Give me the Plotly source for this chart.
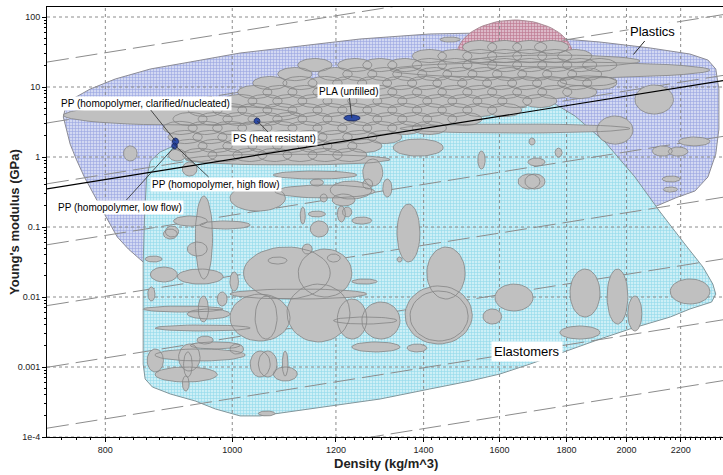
import numpy as np
import plotly.graph_objects as go

# ---------------- axes ----------------
x_range = [722, 2370]            # density, kg/m^3
y_range = [1e-4, 139]            # Young's modulus, GPa
x_ticks = [800, 1000, 1200, 1400, 1600, 1800, 2000, 2200]
x_ticktext = ["800", "1000", "1200", "1400", "1600", "1800", "2000", "2200"]
y_ticks = [1e-4, 1e-3, 1e-2, 0.1, 1, 10, 100]
y_ticktext = ["1e-4", "0.001", "0.01", "0.1", "1", "10", "100"]

# ---------------- envelopes (density, modulus) ----------------
plastics_rho = [743, 746, 755, 779, 814, 866, 929, 1014, 1127, 1252, 1415, 1546, 1718, 1909, 2085, 2236,
                2308, 2340, 2353, 2353, 2340, 2308, 2256, 2180, 2048, 1909, 1779, 1658, 1519, 1391, 1274,
                1167, 1069, 1005, 954, 913, 881, 855, 833, 817, 801, 785, 771, 760, 752, 747]
plastics_E = [3.73, 5.18, 6.74, 9.36, 13.0, 18.1, 22.8, 30.6, 38.5, 48.5, 57.2, 59.1, 51.8, 43.9, 36.1, 29.6,
              24.3, 18.1, 9.36, 2.51, 1.10, 0.518, 0.327, 0.260, 0.158, 0.072, 0.0385, 0.0206, 0.0103, 0.00631,
              0.00425, 0.00316, 0.00286, 0.00316, 0.00454, 0.00877, 0.0169, 0.0316, 0.0485, 0.072, 0.139,
              0.277, 0.518, 0.936, 1.53, 2.51]

elast_rho = [905, 996, 1188, 1467, 1658, 1739, 1827, 1926, 2030, 2122, 2216, 2288, 2328, 2340, 2323, 2236,
             2160, 2012, 1909, 1801, 1688, 1601, 1519, 1415, 1297, 1188, 1107, 1050, 1014, 971, 937, 897,
             869, 858, 855, 855, 855, 857, 860, 866, 881]
elast_E = [1.48, 2.86, 4.54, 6.74, 7.69, 6.74, 3.85, 1.64, 0.518, 0.164, 0.0572, 0.0268, 0.0153, 0.011,
           0.00848, 0.00674, 0.00518, 0.00349, 0.00251, 0.00169, 0.0011, 0.000794, 0.000631, 0.000485,
           0.000349, 0.000277, 0.000228, 0.0002, 0.0002, 0.000251, 0.000327, 0.000411, 0.000518, 0.000674,
           0.0011, 0.00936, 0.0296, 0.130, 0.485, 0.877, 1.18]

highlight_box = (1484, 1820, 8.48, 90.6)   # rho_lo, rho_hi, E_lo, E_hi

# ---------------- material bubbles: (rho_lo, rho_hi, E_lo, E_hi) ----------------
plastics_grades = [
    (743, 1127, 2.86, 5.53), (1320, 2316, 13.4, 22.8), (1519, 2048, 19.3, 28.6), (1343, 2012, 2.20, 2.96),
    (921, 1320, 0.769, 1.10), (1075, 1245, 0.485, 0.631), (1078, 1285, 0.260, 0.398), (1188, 1278, 0.251, 0.454),
    (1327, 1449, 1.03, 1.81), (1258, 1303, 0.385, 0.936), (1899, 2023, 1.53, 3.85), (2030, 2172, 4.11, 10.7),
    (1779, 1967, 10.3, 14.4), (1540, 1560, 0.674, 1.22), (1685, 1703, 1.48, 1.87), (1764, 1786, 1.0, 1.34),
    (1682, 1733, 0.743, 0.968), (1653, 1718, 0.349, 0.572), (1673, 1733, 0.349, 0.572), (2093, 2168, 1.03, 1.44),
    (2153, 2228, 1.03, 1.39), (2192, 2316, 1.44, 1.93), (2130, 2198, 0.439, 0.535), (2134, 2188, 0.316, 0.373),
    (1441, 1493, 43.9, 51.8), (826, 846, 0.877, 1.44), (894, 922, 0.877, 1.30), (916, 940, 0.535, 0.848),
]

# dense family of thermoplastic grades: row modulus (GPa) and grade densities (kg/m^3)
cluster_row_E = [37.3, 27.7, 20.6, 15.3, 11.4, 8.48, 6.31, 4.69, 3.49, 2.60, 1.93, 1.44, 1.07]
cluster_row_rho = [
    [1546, 1615, 1688, 1754],
    [1415, 1480, 1546, 1615, 1688, 1764, 1827],
    [1157, 1241, 1297, 1355, 1415, 1480, 1546, 1615, 1688, 1764, 1843, 1909],
    [1117, 1199, 1252, 1308, 1367, 1428, 1493, 1560, 1629, 1703, 1779, 1859],
    [1069, 1127, 1178, 1230, 1285, 1343, 1403, 1467, 1532, 1601, 1673, 1748, 1827, 1909],
    [1041, 1088, 1137, 1188, 1241, 1297, 1355, 1415, 1480, 1546, 1615, 1688, 1764, 1843],
    [1014, 1060, 1107, 1157, 1209, 1263, 1320, 1379, 1441, 1506, 1574, 1644, 1718],
    [954, 996, 1041, 1088, 1137, 1188, 1241, 1297, 1355, 1415, 1480, 1546, 1615],
    [929, 971, 1014, 1060, 1107, 1157, 1209, 1263, 1320, 1379, 1441, 1506],
    [913, 954, 996, 1041, 1088, 1137, 1188, 1241, 1297, 1355, 1415],
    [921, 962, 1005, 1050, 1098, 1147, 1199, 1252, 1308],
    [929, 971, 1014, 1060, 1107, 1157, 1209, 1263],
    [945, 988, 1032, 1078, 1127, 1178, 1230],
]
grade_rho_spread = 0.030   # +/- fraction of density
grade_E_factor = 1.24      # modulus range factor

elastomer_grades = [
    (886, 908, 0.0674, 0.0936), (996, 1098, 0.169, 0.398), (937, 966, 0.0181, 0.277), (902, 957, 0.103, 0.144),
    (945, 1032, 0.0936, 0.122), (889, 910, 0.072, 0.103), (924, 957, 0.0385, 0.061), (866, 908, 0.0164, 0.0268),
    (858, 884, 0.0316, 0.0385), (908, 984, 0.0153, 0.0251), (862, 873, 0.00877, 0.0139), (974, 991, 0.00743, 0.0118),
    (942, 959, 0.00439, 0.0103), (855, 984, 0.0061, 0.00743), (924, 996, 0.00485, 0.00674), (873, 1032, 0.00327, 0.00398),
    (861, 886, 0.000848, 0.00181), (873, 1023, 0.00122, 0.00181), (873, 974, 0.000611, 0.001), (910, 945, 0.000877, 0.00213),
    (918, 932, 0.00072, 0.00164), (916, 927, 0.000454, 0.000743), (940, 967, 0.00213, 0.00277), (929, 1014, 0.00181, 0.00228),
    (1032, 1069, 0.00072, 0.00169), (1047, 1082, 0.00072, 0.00169), (1092, 1103, 0.000743, 0.00169),
    (1075, 1121, 0.000631, 0.001), (1047, 1078, 0.0002, 0.000235),
    (1020, 1188, 0.00936, 0.0518), (1123, 1234, 0.01, 0.0485), (996, 1107, 0.00235, 0.011), (1041, 1082, 0.00251, 0.0103),
    (996, 1267, 0.00936, 0.013), (1101, 1230, 0.00228, 0.0153), (1203, 1267, 0.00251, 0.00936), (1256, 1343, 0.00251, 0.00848),
    (1195, 1336, 0.00411, 0.00518), (1355, 1525, 0.00213, 0.0144), (1367, 1514, 0.00235, 0.0122), (1408, 1506, 0.00936, 0.0518),
    (996, 1020, 0.00153, 0.00213), (1234, 1343, 0.00164, 0.00228), (1360, 1408, 0.00164, 0.00213), (1065, 1101, 0.0296, 0.0373),
    (1182, 1209, 0.0316, 0.0411), (1131, 1151, 0.0411, 0.0572), (1234, 1290, 0.0153, 0.0181), (996, 1011, 0.0122, 0.0228),
    (1192, 1241, 0.2, 0.296), (1167, 1182, 0.228, 0.296), (1203, 1220, 0.118, 0.2), (1214, 1234, 0.139, 0.193),
    (1143, 1178, 0.139, 0.169), (1234, 1278, 0.110, 0.139), (1147, 1184, 0.072, 0.122), (1127, 1137, 0.110, 0.193),
    (1303, 1324, 0.268, 0.485), (1258, 1280, 0.349, 0.485), (1336, 1348, 0.0316, 0.0373), (1336, 1391, 0.0316, 0.213),
    (1147, 1174, 0.385, 0.485),
    (1587, 1697, 0.00631, 0.0153), (1554, 1606, 0.00411, 0.00674), (1811, 1909, 0.00518, 0.0251), (1933, 2005, 0.00411, 0.0251),
    (2005, 2055, 0.00327, 0.0103), (1779, 1909, 0.00251, 0.00385), (2160, 2316, 0.00794, 0.0181),
]

# selected records (blue): (rho_lo, rho_hi, E_lo, E_hi)
selected_names = ["PP clarified", "PP flow", "PS (heat resistant)", "PLA (unfilled)"]
selected_boxes = [(900, 910, 1.48, 1.87), (899, 908, 1.30, 1.58), (1039, 1050, 2.96, 3.61), (1217, 1252, 3.27, 3.98)]

# guide lines E = C (rho/1000)^3, C in GPa
guide_C = [4.8e-5, 3.55e-4, 2.63e-3, 0.02, 0.148, 1.10, 8.13, 60.3]
selection_C = 0.93

# labels: text, label position (rho, E), pointed record (rho, E)
label_text = ["PP (homopolymer, clarified/nucleated)", "PS (heat resistant)", "PLA (unfilled)",
              "PP (homopolymer, high flow)", "PP (homopolymer, low flow)"]
label_pos = [(858, 5.9), (1078, 1.81), (1227, 8.77), (972, 0.411), (821, 0.193)]
label_target = [(905, 1.69), (1045, 3.27), (1234, 3.6), (905, 1.44), (903, 1.39)]


def ellipses(boxes, n=44):
    t = np.linspace(0, 2 * np.pi, n)
    xs, ys = [], []
    for rlo, rhi, elo, ehi in boxes:
        cx, rx = (np.log10(rlo) + np.log10(rhi)) / 2, (np.log10(rhi) - np.log10(rlo)) / 2
        cy, ry = (np.log10(elo) + np.log10(ehi)) / 2, (np.log10(ehi) - np.log10(elo)) / 2
        xs += list(10 ** (cx + rx * np.cos(t))) + [None]
        ys += list(10 ** (cy + ry * np.sin(t))) + [None]
    return xs, ys


cluster_boxes = []
for E_c, rhos in zip(cluster_row_E, cluster_row_rho):
    for r in rhos:
        cluster_boxes.append((r * (1 - grade_rho_spread), r * (1 + grade_rho_spread),
                              E_c / grade_E_factor, E_c * grade_E_factor))

fig = go.Figure()

# plastics envelope
fig.add_trace(go.Scatter(x=plastics_rho + plastics_rho[:1], y=plastics_E + plastics_E[:1], mode="lines",
                         fill="toself", fillcolor="rgb(180,188,232)",
                         fillpattern=dict(shape="+", size=3, solidity=0.35, fgcolor="rgb(95,112,208)",
                                          bgcolor="rgb(210,216,242)"),
                         line=dict(color="rgb(140,140,150)", width=1), hoverinfo="skip"))
# highlighted region
hx, hy = ellipses([highlight_box], n=80)
fig.add_trace(go.Scatter(x=hx, y=hy, mode="lines", fill="toself", fillcolor="rgb(205,160,180)",
                         fillpattern=dict(shape="+", size=3, solidity=0.4, fgcolor="rgb(160,60,90)",
                                          bgcolor="rgb(220,185,200)"),
                         line=dict(color="rgb(170,140,150)", width=1), hoverinfo="skip"))
# elastomers envelope
fig.add_trace(go.Scatter(x=elast_rho + elast_rho[:1], y=elast_E + elast_E[:1], mode="lines",
                         fill="toself", fillcolor="rgb(172,226,238)",
                         fillpattern=dict(shape="+", size=3, solidity=0.38, fgcolor="rgb(95,196,224)",
                                          bgcolor="rgb(205,239,246)"),
                         line=dict(color="rgb(130,150,155)", width=1), hoverinfo="skip"))

# grid lines
gx, gy = [], []
for v in x_ticks:
    gx += [v, v, None]
    gy += [y_range[0], y_range[1], None]
for v in y_ticks:
    gx += [x_range[0], x_range[1], None]
    gy += [v, v, None]
fig.add_trace(go.Scatter(x=gx, y=gy, mode="lines", line=dict(color="rgb(140,140,140)", width=1, dash="3px,3px"),
                         hoverinfo="skip"))

# guide lines
rho_ends = np.array(x_range, dtype=float)
lx, ly = [], []
for C in guide_C:
    lx += list(rho_ends) + [None]
    ly += list(C * (rho_ends / 1000) ** 3) + [None]
fig.add_trace(go.Scatter(x=lx, y=ly, mode="lines", line=dict(color="rgb(140,140,140)", width=1, dash="22px,7px"),
                         hoverinfo="skip"))

# material bubbles
bx, by = ellipses(plastics_grades + cluster_boxes + elastomer_grades)
fig.add_trace(go.Scatter(x=bx, y=by, mode="lines", fill="toself", fillcolor="rgb(192,192,192)",
                         line=dict(color="rgb(132,132,132)", width=0.8), hoverinfo="skip"))

# selection line
fig.add_trace(go.Scatter(x=list(rho_ends), y=list(selection_C * (rho_ends / 1000) ** 3), mode="lines",
                         line=dict(color="black", width=1.2), hoverinfo="skip"))

# selected records
sx, sy = ellipses(selected_boxes)
fig.add_trace(go.Scatter(x=sx, y=sy, mode="lines", fill="toself", fillcolor="rgb(45,75,165)",
                         line=dict(color="rgb(20,35,90)", width=0.8), hoverinfo="skip"))

ann = []
for txt, (lr, le), (tr, te) in zip(label_text, label_pos, label_target):
    ann.append(dict(x=np.log10(tr), y=np.log10(te), ax=np.log10(lr), ay=np.log10(le), axref="x", ayref="y",
                    xref="x", yref="y", text=txt, showarrow=True, arrowhead=0, arrowwidth=0.8,
                    arrowcolor="rgb(40,40,40)", bgcolor="white", borderpad=1,
                    font=dict(family="Liberation Sans", size=10, color="black")))
ann.append(dict(x=np.log10(2020), y=np.log10(27.7), ax=np.log10(2093), ay=np.log10(61.1), axref="x", ayref="y",
                xref="x", yref="y", text="Plastics", showarrow=True, arrowhead=0, arrowwidth=1,
                arrowcolor="rgb(40,40,40)", bgcolor="white", borderpad=1, standoff=2,
                font=dict(family="Liberation Sans", size=13, color="black")))
ann.append(dict(x=np.log10(1679), y=np.log10(0.00169), xref="x", yref="y", text="Elastomers", showarrow=False,
                bgcolor="white", borderpad=2, font=dict(family="Liberation Sans", size=13, color="black")))
# axis titles
ann.append(dict(x=0.501, y=-0.0605, xref="paper", yref="paper", text="<b>Density (kg/m^3)</b>", showarrow=False,
                xanchor="center", yanchor="middle", font=dict(family="Liberation Sans", size=13, color="#222")))
ann.append(dict(x=-0.0488, y=0.5, xref="paper", yref="paper", text="<b>Young's modulus (GPa)</b>", showarrow=False,
                textangle=-90, xanchor="center", yanchor="middle",
                font=dict(family="Liberation Sans", size=13, color="#222")))

fig.update_layout(
    width=723, height=475, margin=dict(l=47, r=0, t=7, b=38, autoexpand=False),
    plot_bgcolor="white", paper_bgcolor="white", showlegend=False, annotations=ann,
    xaxis=dict(type="log", range=[np.log10(x_range[0]), np.log10(x_range[1])], tickmode="array",
               tickvals=x_ticks, ticktext=x_ticktext, ticks="outside", ticklen=4, tickcolor="black",
               showline=True, linecolor="black", linewidth=1, mirror=True, showgrid=False, zeroline=False,
               automargin=False, tickfont=dict(family="Liberation Sans", size=9, color="#222"),
               minor=dict(ticks="outside", ticklen=2, dtick="L20", tickcolor="black", showgrid=False)),
    yaxis=dict(type="log", range=[np.log10(y_range[0]), np.log10(y_range[1])], tickmode="array",
               tickvals=y_ticks, ticktext=y_ticktext, ticks="outside", ticklen=4, tickcolor="black",
               showline=True, linecolor="black", linewidth=1, showgrid=False, zeroline=False,
               automargin=False, tickfont=dict(family="Liberation Sans", size=9, color="#222"),
               minor=dict(ticks="outside", ticklen=2, dtick="D1", tickcolor="black", showgrid=False)),
)

fig.write_html("out.html", config={"displayModeBar": False},
               post_script="document.body.style.margin='0px';")
